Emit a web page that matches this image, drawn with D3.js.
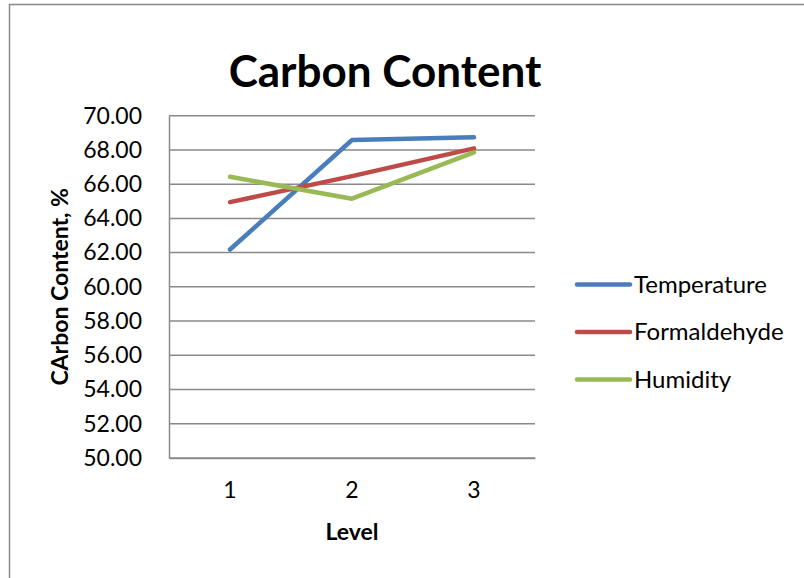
<!DOCTYPE html>
<html>
<head>
<meta charset="utf-8">
<script src="https://cdn.jsdelivr.net/npm/d3@7"></script>
<style>
  html, body { margin: 0; padding: 0; background: #fff; }
  svg { display: block; font-family: Lato, "Open Sans", sans-serif; }
</style>
</head>
<body>
<svg id="chart" width="804" height="578"></svg>
<script>
// Carbon content (%) by level for each factor
const levels = ["1", "2", "3"];
const temperature = [62.18, 68.58, 68.74];
const formaldehyde = [64.95, 66.47, 68.09];
const humidity = [66.43, 65.15, 67.86];
const seriesNames = ["Temperature", "Formaldehyde", "Humidity"];
const seriesColors = ["#4A7EBB", "#BE4B48", "#98B954"];
const yTicks = [50, 52, 54, 56, 58, 60, 62, 64, 66, 68, 70];

const series = [temperature, formaldehyde, humidity].map((values, i) => ({
  name: seriesNames[i], color: seriesColors[i], values
}));

const svg = d3.select("#chart");
const plot = { left: 169, right: 535, top: 115.7, bottom: 458 };

// outer frame
svg.append("rect")
  .attr("x", 9.5).attr("y", 4.5)
  .attr("width", 820).attr("height", 600)
  .attr("fill", "none").attr("stroke", "#888").attr("stroke-width", 1.5);

const x = d3.scaleBand().domain(levels).range([plot.left, plot.right]);
const y = d3.scaleLinear().domain([50, 70]).range([plot.bottom, plot.top]);

// horizontal gridlines
svg.append("g")
  .selectAll("line")
  .data(yTicks)
  .join("line")
  .attr("x1", plot.left).attr("x2", plot.right)
  .attr("y1", d => y(d)).attr("y2", d => y(d))
  .attr("stroke", "#8a8a8a").attr("stroke-width", 1.5);

// y axis
const yAxis = svg.append("g")
  .attr("transform", `translate(${plot.left},0)`)
  .call(d3.axisLeft(y).tickValues(yTicks).tickFormat(d3.format(".2f")).tickSize(0).tickPadding(27));
yAxis.select(".domain").attr("stroke", "#8a8a8a").attr("stroke-width", 1.5);
yAxis.selectAll("text").attr("font-size", 23).attr("fill", "#000")
  .attr("font-family", "Lato, sans-serif");

// x axis
const xAxis = svg.append("g")
  .attr("transform", `translate(0,${plot.bottom})`)
  .call(d3.axisBottom(x).tickSize(0).tickPadding(24));
xAxis.select(".domain").attr("stroke", "#8a8a8a").attr("stroke-width", 1.5);
xAxis.selectAll("text").attr("font-size", 23).attr("fill", "#000")
  .attr("font-family", "Lato, sans-serif");

// lines
const line = d3.line()
  .x((d, i) => x(levels[i]) + x.bandwidth() / 2)
  .y(d => y(d));

svg.append("g")
  .selectAll("path")
  .data(series)
  .join("path")
  .attr("d", d => line(d.values))
  .attr("fill", "none")
  .attr("stroke", d => d.color)
  .attr("stroke-width", 4.5)
  .attr("stroke-linejoin", "round")
  .attr("stroke-linecap", "round");

// title
svg.append("text")
  .attr("x", 385).attr("y", 87)
  .attr("text-anchor", "middle")
  .attr("font-size", 44).attr("font-weight", "bold")
  .text("Carbon Content");

// axis titles
svg.append("text")
  .attr("x", (plot.left + plot.right) / 2).attr("y", 540)
  .attr("text-anchor", "middle")
  .attr("font-size", 23).attr("font-weight", "bold")
  .text("Level");

svg.append("text")
  .attr("transform", `translate(68,${(plot.top + plot.bottom) / 2}) rotate(-90)`)
  .attr("text-anchor", "middle")
  .attr("font-size", 23).attr("font-weight", "bold")
  .text("CArbon Content, %");

// legend
const legend = svg.append("g")
  .selectAll("g")
  .data(series)
  .join("g")
  .attr("transform", (d, i) => `translate(577,${284.5 + i * 47.5})`);
legend.append("line")
  .attr("x1", 0).attr("x2", 53)
  .attr("stroke", d => d.color).attr("stroke-width", 4.5)
  .attr("stroke-linecap", "round");
legend.append("text")
  .attr("x", 57).attr("dy", "0.35em")
  .attr("font-size", 24)
  .text(d => d.name);
</script>
</body>
</html>
